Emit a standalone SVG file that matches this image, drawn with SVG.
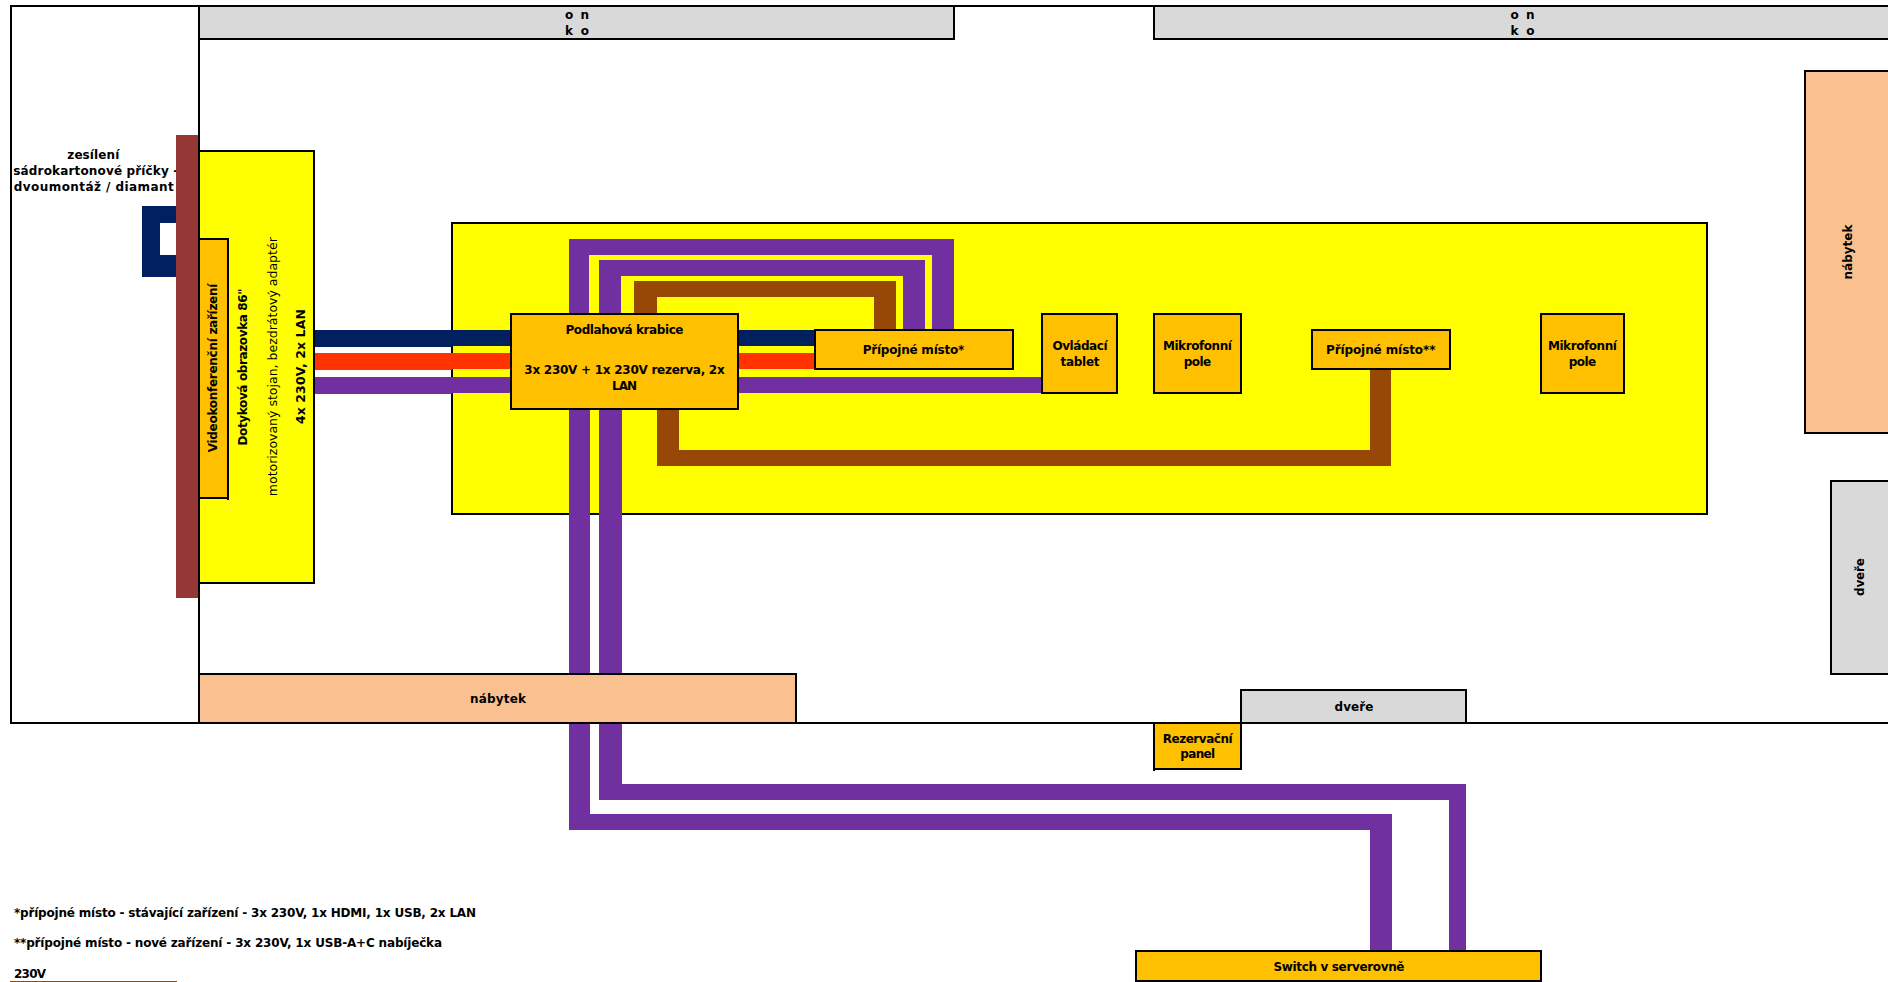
<svg xmlns="http://www.w3.org/2000/svg" width="1888" height="982" viewBox="0 0 1888 982">
<style>
text{font-family:"DejaVu Sans",Verdana,sans-serif;font-size:12px;fill:#000;text-anchor:middle}
.b{font-weight:bold}
.l{text-anchor:start}
.box{stroke:#000;stroke-width:2}
.eq{fill:#FFC000}
.gr{fill:#D9D9D9}
.pe{fill:#FAC090}
.ye{fill:#FFFF00}
.pu{fill:#7030A0}
.br{fill:#974706}
.na{fill:#002060}
.re{fill:#FF3300}
.wall{stroke:#000;stroke-width:2;fill:none}
</style>
<rect width="1888" height="982" fill="#fff"/>
<g id="room"><path class="wall" d="M1888 6H11V723H1888M199 6V723"/></g>
<g id="okno-1"><rect class="box gr" x="199" y="6" width="755" height="33"/><text class="b" x="577" y="19" textLength="24">o n</text><text class="b" x="577" y="35" textLength="24">k o</text></g>
<g id="okno-2"><rect class="box gr" x="1154" y="6" width="740" height="33"/><text class="b" x="1522.500" y="19" textLength="24">o n</text><text class="b" x="1522.500" y="35" textLength="24">k o</text></g>
<g id="nabytek-right"><rect class="box pe" x="1805" y="71" width="90" height="362"/><text class="b" transform="translate(1852 252) rotate(-90)" textLength="55">nábytek</text></g>
<g id="dvere-right"><rect class="box gr" x="1831" y="481" width="60" height="193"/><text class="b" transform="translate(1864 577) rotate(-90)" textLength="38">dveře</text></g>
<g id="dvere-bottom"><rect class="box gr" x="1241" y="690" width="225" height="33"/><text class="b" x="1354" y="711" textLength="39">dveře</text></g>
<g id="stul"><rect class="box ye" x="452" y="223" width="1255" height="291"/></g>
<g id="zesileni"><rect class="na" x="142" y="206" width="36" height="71"/><rect fill="#fff" x="160" y="223" width="18" height="32"/><text class="b" x="93.300" y="159" textLength="52">zesílení</text><text class="b" x="95.800" y="175" textLength="165">sádrokartonové příčky -</text><text class="b" x="93.800" y="191" textLength="160">dvoumontáž / diamant</text><rect fill="#953735" x="176" y="135" width="22" height="463"/></g>
<g id="obrazovka"><rect class="box ye" x="199" y="151" width="115" height="432"/><text class="b" transform="translate(247.300 367) rotate(-90)" textLength="157">Dotyková obrazovka 86"</text><text style="font-size:12.500px" transform="translate(276.700 366.700) rotate(-90)" textLength="259">motorizovaný stojan, bezdrátový adaptér</text><text class="b" style="font-size:12.500px" transform="translate(305 366.600) rotate(-90)" textLength="115">4x 230V, 2x LAN</text></g>
<g id="connectors">
<rect class="na" x="315" y="330" width="137" height="17"/><rect class="re" x="315" y="353" width="137" height="17"/><rect class="pu" x="315" y="377" width="137" height="17"/>
<rect class="na" x="452" y="330" width="362" height="16"/><rect class="re" x="452" y="353" width="362" height="16"/><rect class="pu" x="452" y="377" width="590" height="16"/>
<path class="pu" d="M569 314V239H954V330H932V255H589V314Z"/>
<path class="pu" d="M599 314V260H925V330H903V276H621V314Z"/>
<path class="br" d="M634 314V281H896V330H874V297H657V314Z"/>
<path class="br" d="M657 409H679V450H1370V369H1391V466H657Z"/>
<path class="pu" d="M569 409H590V814H1392V951H1370V830H569Z"/>
<path class="pu" d="M599 409H622V784H1466V951H1449V800H599Z"/>
</g>
<g id="nabytek-bottom"><rect class="box pe" x="199" y="674" width="597" height="49"/><text class="b" x="498" y="703" textLength="56">nábytek</text></g>
<g id="videokonference"><rect class="box eq" x="199" y="239" width="29" height="259"/><rect x="227" y="498" width="2" height="2"/><text class="b" transform="translate(217.300 368) rotate(-90)" textLength="168.700">Videokonferenční zařízení</text></g>
<g id="podlahova-krabice"><rect class="box eq" x="511" y="314" width="227" height="95"/><text class="b" x="624.500" y="334" textLength="118">Podlahová krabice</text><text class="b" x="624.500" y="374" textLength="200.400">3x 230V + 1x 230V rezerva, 2x</text><text class="b" x="624.500" y="390" textLength="25">LAN</text></g>
<g id="pripojne-1"><rect class="box eq" x="815" y="330" width="198" height="39"/><text class="b" x="913.500" y="354" textLength="101.600">Přípojné místo*</text></g>
<g id="ovladaci-tablet"><rect class="box eq" x="1042" y="314" width="75" height="79"/><text class="b" x="1080" y="350" textLength="55">Ovládací</text><text class="b" x="1080" y="366" textLength="39">tablet</text></g>
<g id="mikrofon-1"><rect class="box eq" x="1154" y="314" width="87" height="79"/><text class="b" x="1197.400" y="350" textLength="69">Mikrofonní</text><text class="b" x="1197.400" y="366" textLength="27.500">pole</text></g>
<g id="pripojne-2"><rect class="box eq" x="1312" y="330" width="138" height="39"/><text class="b" x="1380.700" y="354" textLength="109.500">Přípojné místo**</text></g>
<g id="mikrofon-2"><rect class="box eq" x="1541" y="314" width="83" height="79"/><text class="b" x="1582.400" y="350" textLength="69">Mikrofonní</text><text class="b" x="1582.400" y="366" textLength="27.500">pole</text></g>
<g id="rezervacni-panel"><rect class="box eq" x="1154" y="723" width="87" height="46"/><rect x="1153" y="769" width="2" height="2"/><text class="b" x="1197.700" y="743" textLength="70">Rezervační</text><text class="b" x="1197.700" y="758" textLength="35">panel</text></g>
<g id="switch"><rect class="box eq" x="1136" y="951" width="405" height="30"/><text class="b" x="1339" y="971" textLength="131">Switch v serverovně</text></g>
<g id="legenda"><text class="b l" x="14" y="917" textLength="462">*přípojné místo - stávající zařízení - 3x 230V, 1x HDMI, 1x USB, 2x LAN</text><text class="b l" x="14" y="947" textLength="428">**přípojné místo - nové zařízení - 3x 230V, 1x USB-A+C nabíječka</text><text class="b l" x="14" y="978" textLength="32">230V</text><rect class="br" x="10" y="981" width="167" height="1"/></g>
</svg>
